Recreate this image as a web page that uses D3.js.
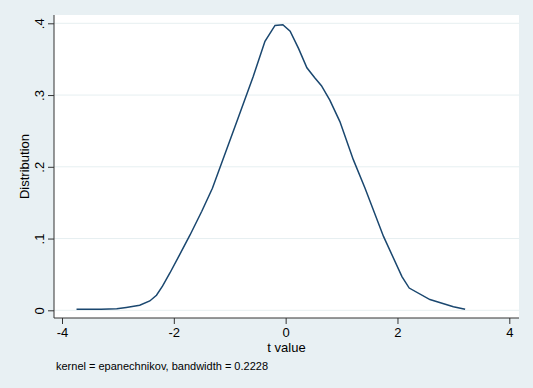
<!DOCTYPE html>
<html><head><meta charset="utf-8">
<script src="https://cdn.jsdelivr.net/npm/d3@7"></script>
<style>body{margin:0;background:#fff}svg{display:block}text{font-family:"Liberation Sans",Arial,sans-serif;fill:#000}</style>
</head><body>
<script>
const tValues = [-3.74,-3.3,-3.02,-2.85,-2.61,-2.43,-2.31,-2.2,-2.07,-1.9,-1.71,-1.5,-1.31,-0.85,-0.58,-0.37,-0.19,-0.05,0.08,0.23,0.38,0.52,0.64,0.79,0.97,1.21,1.42,1.75,2.08,2.21,2.58,3.0,3.21];
const density = [0.0014,0.0015,0.002,0.004,0.007,0.013,0.021,0.034,0.052,0.077,0.105,0.138,0.170,0.268,0.326,0.375,0.397,0.398,0.389,0.365,0.338,0.324,0.313,0.293,0.263,0.21,0.170,0.103,0.047,0.031,0.015,0.005,0.0014];
const xTicks = [-4,-2,0,2,4];
const yTicks = [0,0.1,0.2,0.3,0.4];
const yTickLabels = ["0",".1",".2",".3",".4"];
const xTitle = "t value", yTitle = "Distribution";
const note = "kernel = epanechnikov, bandwidth = 0.2228";

const W=533,H=388;
const svg=d3.select("body").append("svg").attr("width",W).attr("height",H);
svg.append("rect").attr("width",W).attr("height",H).attr("fill","#e8f0f3");
const L=54,R=519,T=15,B=318;
svg.append("rect").attr("x",L).attr("y",T).attr("width",R-L).attr("height",B-T).attr("fill","#fff");
const x=d3.scaleLinear().domain([-4,4]).range([62,509.3]);
const y=d3.scaleLinear().domain([0,0.4]).range([310.3,23.3]);
// grid
svg.append("g").selectAll("line").data(yTicks).join("line")
  .attr("x1",L).attr("x2",R).attr("y1",d=>y(d)).attr("y2",d=>y(d))
  .attr("stroke","#e6eff1").attr("stroke-width",1);
// axes
const ya=svg.append("g").attr("transform",`translate(${L},0)`)
  .call(d3.axisLeft(y).tickValues(yTicks).tickFormat((d,i)=>yTickLabels[i]).tickSize(6).tickPadding(4));
ya.select(".domain").attr("d",`M0,${T}V${B}`).attr("stroke","#333");
ya.selectAll(".tick line").attr("stroke","#333");
ya.selectAll(".tick text").attr("font-size",13).attr("text-anchor","middle")
  .attr("transform",d=>`translate(-15,0) rotate(-90)`).attr("x",0).attr("dy","0.35em");
const xa=svg.append("g").attr("transform",`translate(0,${B})`)
  .call(d3.axisBottom(x).tickValues(xTicks).tickFormat(d3.format("d")).tickSize(6).tickPadding(4));
xa.select(".domain").attr("d",`M${L},0H${R}`).attr("stroke","#333");
xa.selectAll(".tick line").attr("stroke","#333");
xa.selectAll(".tick text").attr("font-size",13).text(d=>d<0?"-"+Math.abs(d):d);
// line
svg.append("path").datum(tValues.map((t,i)=>[t,density[i]]))
  .attr("d",d3.line().x(d=>x(d[0])).y(d=>y(d[1])))
  .attr("fill","none").attr("stroke","#1a476f").attr("stroke-width",1.5);
// titles
svg.append("text").attr("x",(L+R)/2).attr("y",352).attr("text-anchor","middle").attr("font-size",13).text(xTitle);
svg.append("text").attr("transform",`translate(29,${(T+B)/2}) rotate(-90)`).attr("text-anchor","middle").attr("font-size",13).text(yTitle);
svg.append("text").attr("x",56).attr("y",370).attr("font-size",11).text(note);
</script>
</body></html>
